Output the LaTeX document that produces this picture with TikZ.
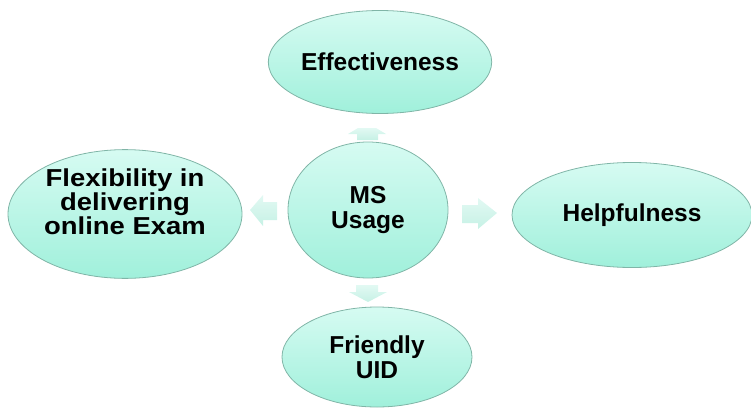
\documentclass[tikz,border=0pt]{standalone}
\usepackage{fontspec}
\setmainfont{Liberation Sans}
\usetikzlibrary{shapes.geometric,calc}
\definecolor{topc}{HTML}{D6FBF2}
\definecolor{botc}{HTML}{A0F0DB}
\definecolor{edgec}{HTML}{80B5A7}
\definecolor{arrtop}{HTML}{E2F9F3}
\definecolor{arrbot}{HTML}{C6F1E5}
\tikzset{
  bubble/.style={ellipse, draw=edgec, line width=0.8pt, top color=topc, bottom color=botc, inner sep=0pt, align=center,
    font=\fontsize{24.5}{25}\selectfont\bfseries, text=black},
  blockarrow/.style={draw=none, top color=arrtop, bottom color=arrbot}
}
\begin{document}
\begin{tikzpicture}[x=1pt,y=-1pt]
\useasboundingbox (0,0) rectangle (751,412);
\node[bubble, minimum width=234pt, minimum height=112pt, font=\fontsize{24.5}{22.5}\selectfont\bfseries] (flex) at (125,214)
  {\scalebox{1.12}[1]{Flexibility in}\\[0pt]\scalebox{1.12}[1]{delivering}\\[0pt]\scalebox{1.12}[1]{online Exam}\\[3pt]};
\node[bubble, minimum width=194pt, minimum height=103pt] (eff) at (380,62) {Effectiveness};
\node[bubble, minimum width=160pt, minimum height=136pt] (ms) at (368,210) {MS\\Usage};
\node[bubble, minimum width=240pt, minimum height=105pt] (help) at (632,215) {Helpfulness};
\node[bubble, minimum width=190pt, minimum height=100pt] (uid) at (377,357) {Friendly\\UID};
% block arrows between the bubbles
\coordinate (up) at ($(ms.north)!0.5!(eff.south)$);
\coordinate (dn) at ($(ms.south)!0.5!(uid.north)$);
\coordinate (lf) at ($(ms.west)!0.5!(flex.east)$);
\coordinate (rt) at ($(ms.east)!0.5!(help.west)$);
\path[blockarrow] (367,128) -- (376,128) -- (386,134) -- (378,134) -- (378,140) -- (357,140) -- (357,134) -- (348,134) -- (358,128) -- cycle;
\path[blockarrow] (356,285) -- (378,285) -- (378,292) -- (387,292) -- (368,302) -- (349,292) -- (356,292) -- cycle;
\path[blockarrow] (462,205) -- (478,205) -- (478,198) -- (497,213) -- (478,229) -- (478,223) -- (462,223) -- cycle;
\path[blockarrow] (277,202) -- (263,202) -- (263,195) -- (250,210) -- (263,226) -- (263,220) -- (277,220) -- cycle;
\end{tikzpicture}
\end{document}
